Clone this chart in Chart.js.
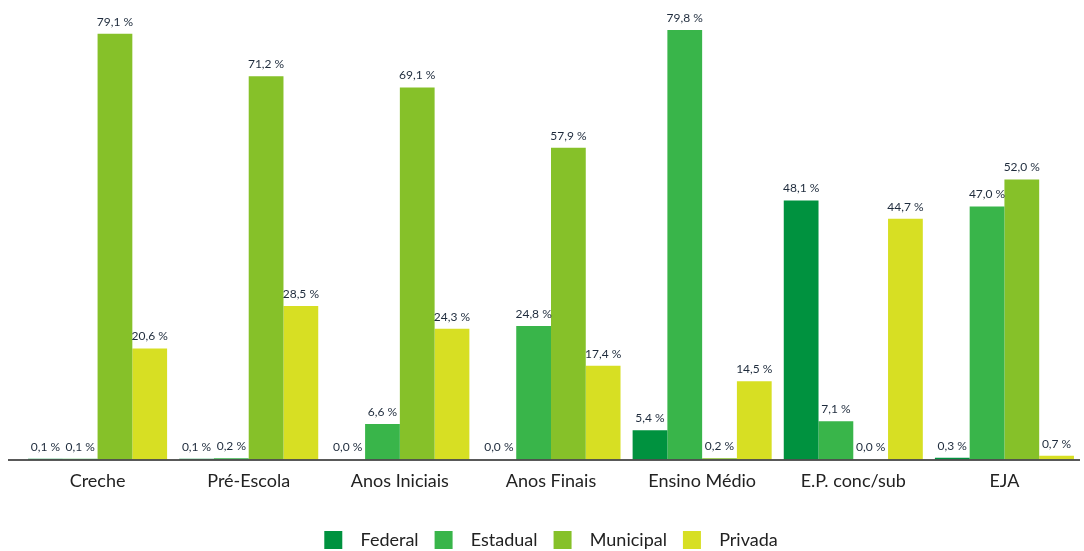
<!DOCTYPE html>
<html>
<head>
<meta charset="utf-8">
<script src="https://cdn.jsdelivr.net/npm/chart.js@4"></script>
<style>
  html, body { margin: 0; padding: 0; background: #fff; overflow: hidden; }
  #wrap { width: 1084px; height: 551px; }
</style>
</head>
<body>
<div id="wrap"><canvas id="chart"></canvas></div>
<script>
var categories = ['Creche', 'Pré-Escola', 'Anos Iniciais', 'Anos Finais', 'Ensino Médio', 'E.P. conc/sub', 'EJA'];
var federal   = [0.1, 0.1, 0.0, 0.0, 5.4, 48.1, 0.3];
var estadual  = [0.1, 0.2, 6.6, 24.8, 79.8, 7.1, 47.0];
var municipal = [79.1, 71.2, 69.1, 57.9, 0.2, 0.0, 52.0];
var privada   = [20.6, 28.5, 24.3, 17.4, 14.5, 44.7, 0.7];

var fontFam = 'Lato, "Open Sans", sans-serif';

// value labels above the bars + axis line that runs a bit past the left edge
var valueLabels = {
    id: 'valueLabels',
    afterDatasetsDraw: function (chart) {
        var ctx = chart.ctx;
        var area = chart.chartArea;
        ctx.save();
        ctx.strokeStyle = '#222';
        ctx.lineWidth = 1.5;
        ctx.beginPath();
        ctx.moveTo(8, area.bottom + 0.5);
        ctx.lineTo(area.right, area.bottom + 0.5);
        ctx.stroke();

        ctx.font = '12px ' + fontFam;
        ctx.fillStyle = '#1e2b3c';
        ctx.textAlign = 'center';
        ctx.textBaseline = 'bottom';
        chart.data.datasets.forEach(function (ds, i) {
            chart.getDatasetMeta(i).data.forEach(function (bar, j) {
                var txt = ds.data[j].toFixed(1).replace('.', ',') + ' %';
                ctx.fillText(txt, bar.x, bar.y - 6);
            });
        });
        ctx.restore();
    }
};

new Chart(document.getElementById('chart').getContext('2d'), {
    type: 'bar',
    data: {
        labels: categories,
        datasets: [
            { label: 'Federal', data: federal, backgroundColor: '#00923f' },
            { label: 'Estadual', data: estadual, backgroundColor: '#39b54a' },
            { label: 'Municipal', data: municipal, backgroundColor: '#86c129' },
            { label: 'Privada', data: privada, backgroundColor: '#d7df23' }
        ]
    },
    options: {
        responsive: true,
        maintainAspectRatio: false,
        animation: false,
        layout: { padding: { top: 2, left: 22, right: 4, bottom: -8 } },
        datasets: {
            bar: { categoryPercentage: 0.92, barPercentage: 1.0 }
        },
        scales: {
            x: {
                grid: { display: false },
                border: { display: false },
                ticks: { color: '#222', font: { family: fontFam, size: 18 }, padding: 3 },
                afterFit: function (scale) { scale.height += 20; }
            },
            y: {
                display: false,
                min: 0,
                max: 85
            }
        },
        plugins: {
            legend: {
                position: 'bottom',
                labels: {
                    color: '#222',
                    font: { family: fontFam, size: 18 },
                    boxWidth: 18,
                    boxHeight: 18,
                    padding: 16,
                    generateLabels: function (chart) {
                        var items = Chart.defaults.plugins.legend.labels.generateLabels(chart);
                        items.forEach(function (it) { it.text = '  ' + it.text; });
                        return items;
                    }
                }
            },
            tooltip: { enabled: false }
        }
    },
    plugins: [valueLabels]
});
</script>
</body>
</html>
